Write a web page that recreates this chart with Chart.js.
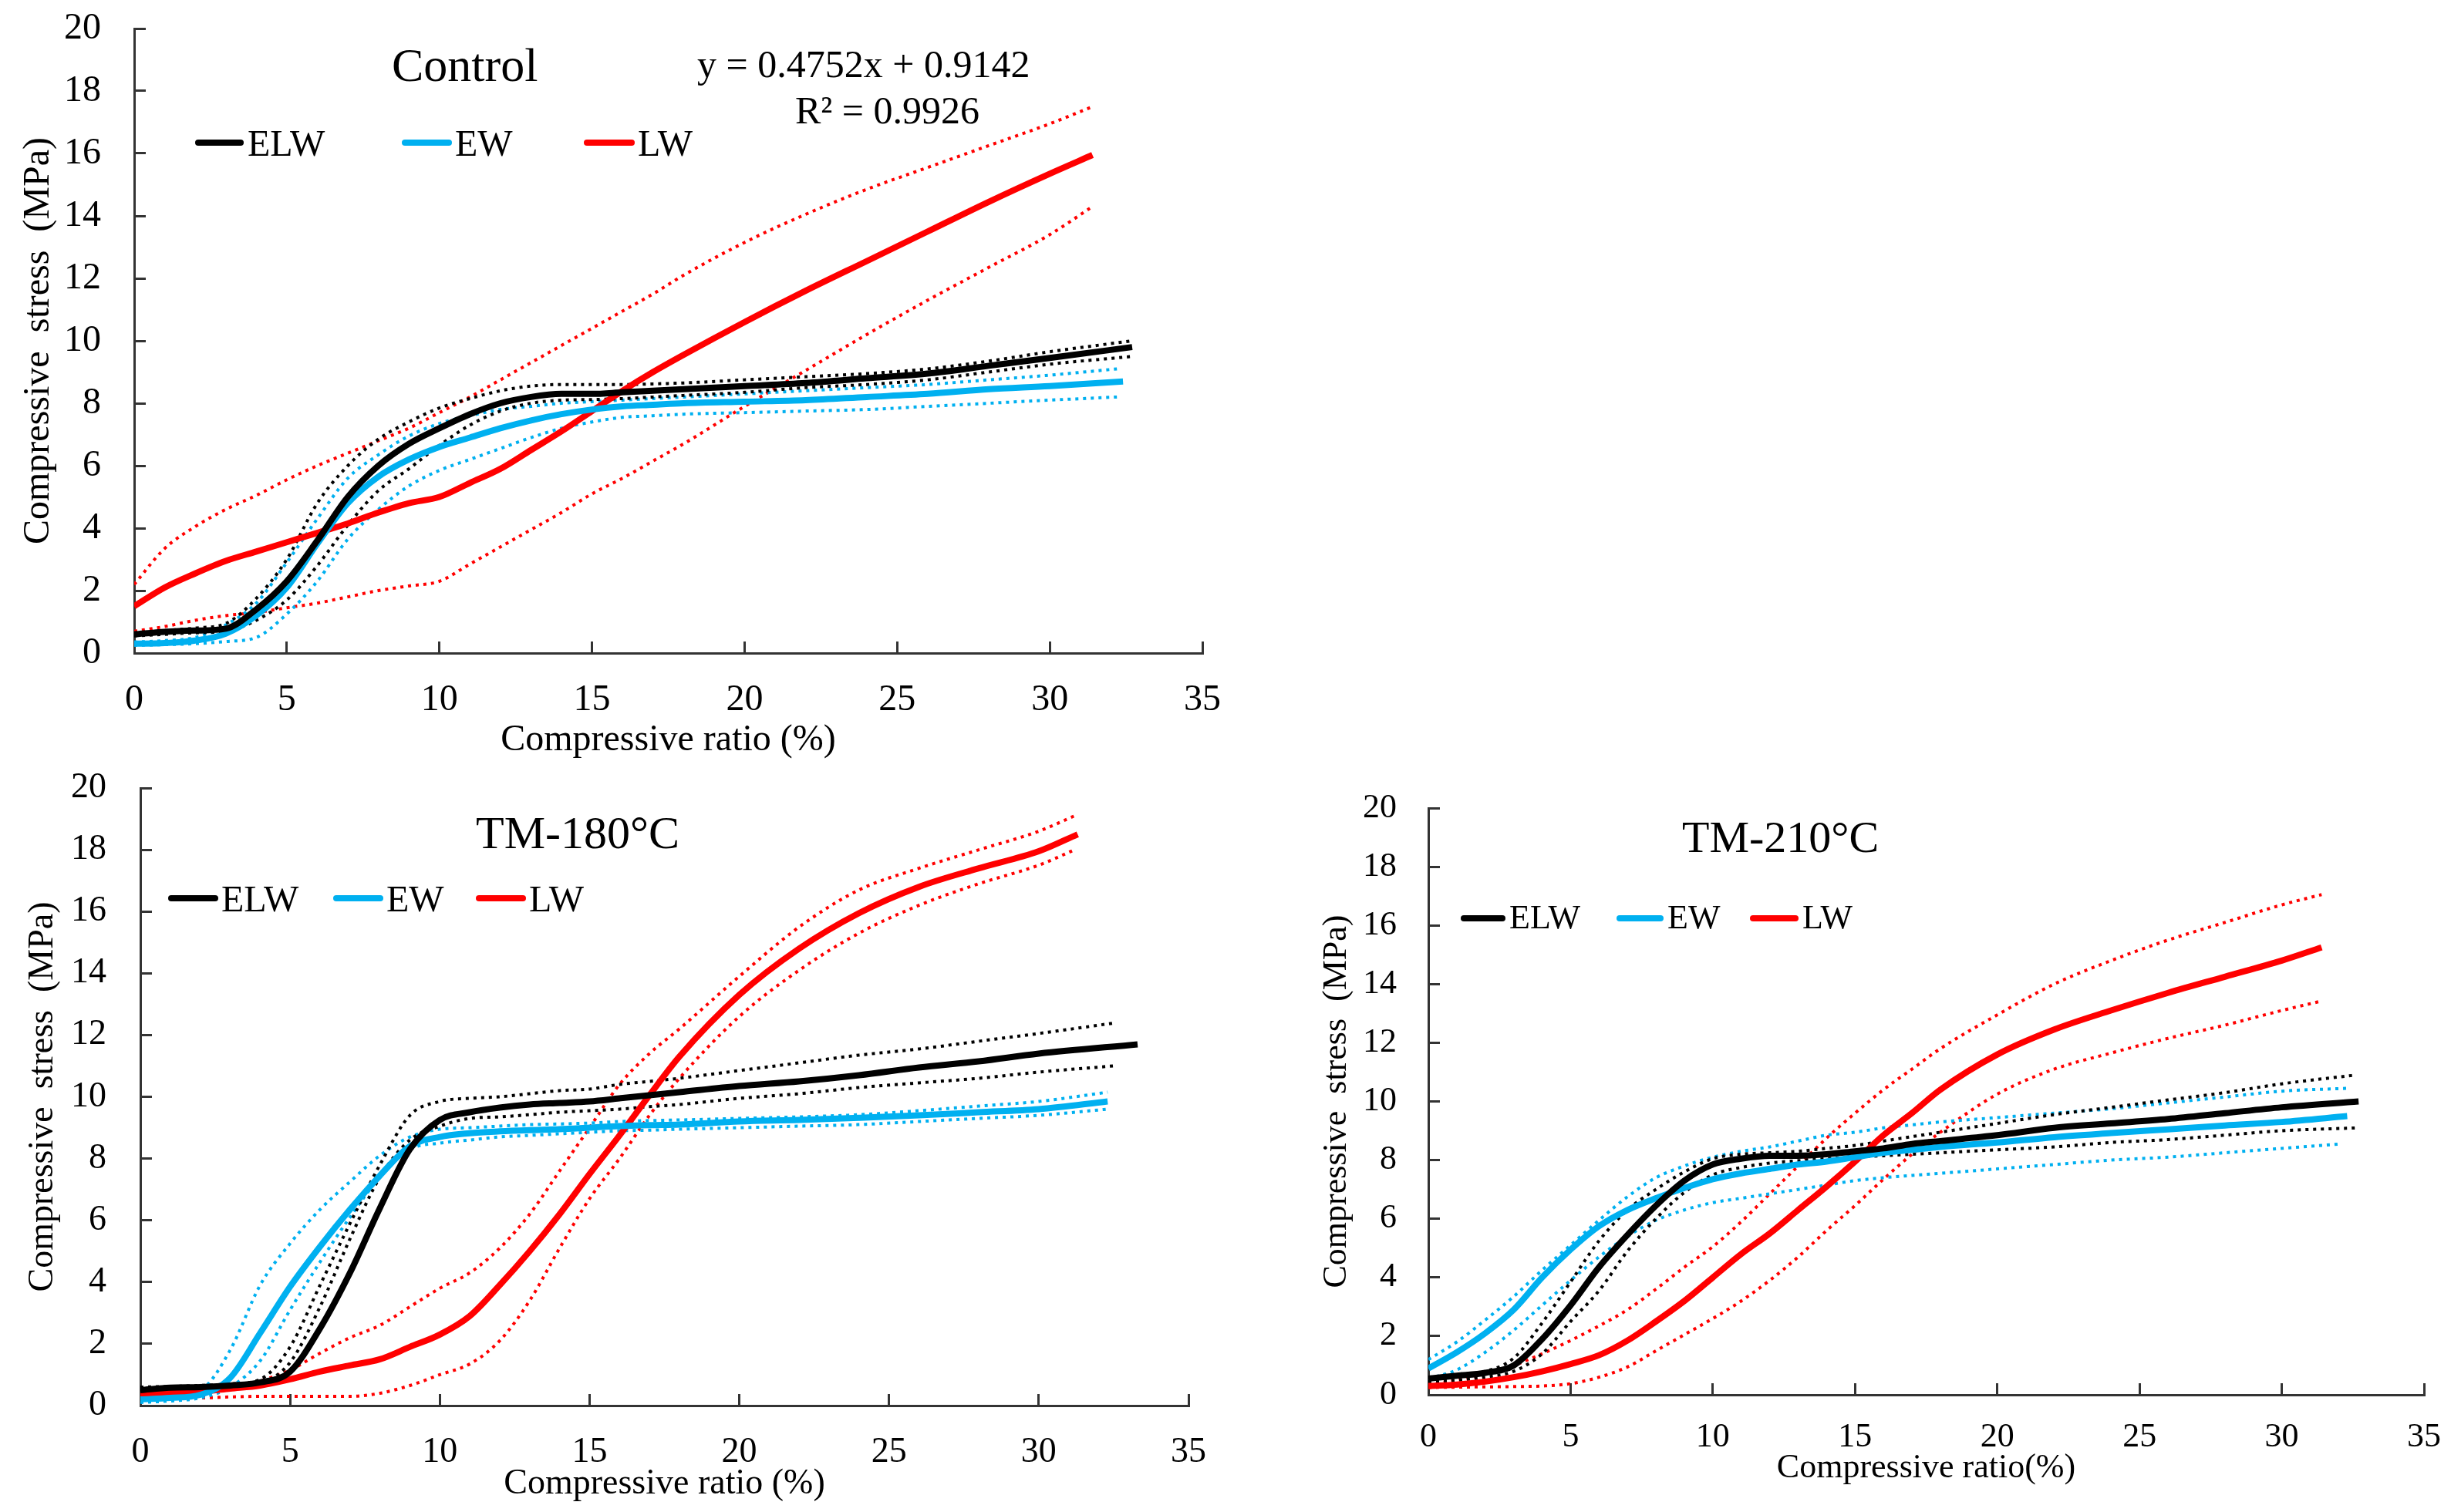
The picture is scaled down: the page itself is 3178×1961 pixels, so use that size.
<!DOCTYPE html>
<html lang="en">
<head>
<meta charset="UTF-8">
<title>Compressive stress vs compressive ratio</title>
<script src="https://cdn.jsdelivr.net/npm/chart.js@4.4.0/dist/chart.umd.min.js"></script>
<style>
  body { margin: 0; background: #fff; width: 3178px; height: 1961px; position: relative; overflow: hidden;
         font-family: "Liberation Serif", "Times New Roman", serif; color: #000; }
  .box { position: absolute; }
  .txt { position: absolute; line-height: 1; white-space: nowrap; }
  .key { position: absolute; height: 8px; border-radius: 4px; }
</style>
</head>
<body>

<!-- Control -->
<div class="box" style="left:0;top:0;width:1600px;height:997px"><canvas id="ctrlChart"></canvas></div>
<div class="txt" style="left:508px;top:53px;font-size:62px">Control</div>
<div class="txt" style="left:904px;top:58px;font-size:50px">y = 0.4752x + 0.9142</div>
<div class="txt" style="left:1031px;top:118px;font-size:50px">R² = 0.9926</div>
<div class="key" style="left:253px;top:181px;width:63px;background:#000"></div>
<div class="txt" style="left:321px;top:162px;font-size:48px">ELW</div>
<div class="key" style="left:521px;top:181px;width:65px;background:#00B0F0"></div>
<div class="txt" style="left:590px;top:162px;font-size:48px">EW</div>
<div class="key" style="left:757px;top:181px;width:66px;background:#FF0000"></div>
<div class="txt" style="left:827px;top:162px;font-size:48px">LW</div>

<!-- TM-180 -->
<div class="box" style="left:0;top:960px;width:1600px;height:1001px"><canvas id="tm180Chart"></canvas></div>
<div class="txt" style="left:617px;top:1050px;font-size:60px">TM-180°C</div>
<div class="key" style="left:218px;top:1161px;width:65px;background:#000"></div>
<div class="txt" style="left:287px;top:1142px;font-size:48px">ELW</div>
<div class="key" style="left:432px;top:1161px;width:65px;background:#00B0F0"></div>
<div class="txt" style="left:501px;top:1142px;font-size:48px">EW</div>
<div class="key" style="left:617px;top:1161px;width:65px;background:#FF0000"></div>
<div class="txt" style="left:686px;top:1142px;font-size:48px">LW</div>

<!-- TM-210 -->
<div class="box" style="left:1640px;top:960px;width:1538px;height:1001px"><canvas id="tm210Chart"></canvas></div>
<div class="txt" style="left:2181px;top:1057px;font-size:58px">TM-210°C</div>
<div class="key" style="left:1894px;top:1187px;width:58px;background:#000"></div>
<div class="txt" style="left:1957px;top:1168px;font-size:44px">ELW</div>
<div class="key" style="left:2096px;top:1187px;width:61px;background:#00B0F0"></div>
<div class="txt" style="left:2162px;top:1168px;font-size:44px">EW</div>
<div class="key" style="left:2269px;top:1187px;width:63px;background:#FF0000"></div>
<div class="txt" style="left:2337px;top:1168px;font-size:44px">LW</div>

<script>
// compressive ratio (%) sampled along every curve; the last value of each series sits at its own end point
const ratioX = [0, 1, 2, 3, 4, 5, 6, 7, 8, 9, 10, 11, 12, 13, 14, 15, 16, 17, 18, 20, 22, 24, 26, 28, 30];
// end ratio per series: ELW, ELW+, ELW-, EW, EW+, EW-, LW, LW+, LW-
const ctrlEnds  = [32.7, 32.7, 32.7, 32.4, 32.2, 32.2, 31.4, 31.4, 31.4];
const tm180Ends = [33.3, 32.6, 32.5, 32.3, 32.3, 32.3, 31.3, 31.2, 31.2];
const tm210Ends = [32.7, 32.6, 32.7, 32.3, 32.4, 32.1, 31.4, 31.4, 31.3];

// Control (MPa)
const ctrlELW   = [0.6, 0.68, 0.72, 0.78, 1.4, 2.3, 3.6, 5.0, 6.0, 6.7, 7.2, 7.65, 8.0, 8.2, 8.3, 8.3, 8.35, 8.4, 8.45, 8.55, 8.65, 8.8, 8.95, 9.2, 9.45, 9.8];
const ctrlELWUp = [0.65, 0.72, 0.8, 0.95, 1.75, 3.0, 4.8, 6.0, 6.85, 7.4, 7.85, 8.15, 8.4, 8.55, 8.6, 8.6, 8.6, 8.62, 8.65, 8.75, 8.85, 8.95, 9.1, 9.35, 9.65, 10.0];
const ctrlELWLo = [0.55, 0.6, 0.65, 0.7, 1.05, 1.7, 2.8, 4.1, 5.2, 5.9, 6.65, 7.3, 7.75, 8.0, 8.1, 8.12, 8.15, 8.2, 8.25, 8.35, 8.5, 8.6, 8.75, 9.0, 9.25, 9.5];
const ctrlEW    = [0.3, 0.32, 0.4, 0.62, 1.2, 2.1, 3.5, 4.8, 5.65, 6.2, 6.6, 6.9, 7.2, 7.45, 7.65, 7.8, 7.9, 7.95, 8.0, 8.05, 8.1, 8.2, 8.3, 8.45, 8.55, 8.7];
const ctrlEWUp  = [0.35, 0.4, 0.5, 0.9, 1.6, 2.9, 4.3, 5.6, 6.35, 6.95, 7.35, 7.6, 7.8, 7.9, 8.0, 8.05, 8.1, 8.15, 8.2, 8.3, 8.4, 8.5, 8.6, 8.75, 8.9, 9.1];
const ctrlEWLo  = [0.25, 0.27, 0.3, 0.37, 0.5, 1.25, 2.3, 3.65, 4.6, 5.35, 5.85, 6.2, 6.55, 6.9, 7.2, 7.4, 7.55, 7.6, 7.65, 7.7, 7.75, 7.8, 7.9, 8.0, 8.1, 8.2];
const ctrlLW    = [1.5, 2.1, 2.55, 2.95, 3.25, 3.55, 3.85, 4.15, 4.5, 4.8, 5.0, 5.45, 5.9, 6.5, 7.1, 7.75, 8.4, 9.0, 9.55, 10.6, 11.6, 12.55, 13.5, 14.45, 15.35, 15.95];
const ctrlLWUp  = [2.2, 3.35, 4.05, 4.6, 5.05, 5.55, 6.0, 6.4, 6.8, 7.2, 7.7, 8.2, 8.75, 9.3, 9.85, 10.4, 10.95, 11.5, 12.1, 13.15, 14.05, 14.85, 15.55, 16.25, 16.95, 17.5];
const ctrlLWLo  = [0.7, 0.85, 1.05, 1.2, 1.3, 1.45, 1.6, 1.8, 2.0, 2.15, 2.3, 2.85, 3.4, 3.95, 4.5, 5.1, 5.6, 6.15, 6.7, 7.9, 9.05, 10.2, 11.3, 12.35, 13.4, 14.3];

// TM-180°C (MPa)
const tm180ELW   = [0.5, 0.58, 0.6, 0.65, 0.75, 1.1, 2.5, 4.3, 6.4, 8.3, 9.25, 9.5, 9.65, 9.75, 9.8, 9.85, 9.95, 10.05, 10.15, 10.35, 10.5, 10.7, 10.95, 11.15, 11.4, 11.7];
const tm180ELWUp = [0.6, 0.62, 0.65, 0.7, 0.85, 1.9, 3.9, 5.9, 7.8, 9.4, 9.85, 9.95, 10.0, 10.1, 10.2, 10.25, 10.4, 10.5, 10.6, 10.85, 11.1, 11.35, 11.55, 11.8, 12.05, 12.4];
const tm180ELWLo = [0.45, 0.5, 0.52, 0.55, 0.7, 1.4, 3.2, 5.4, 7.4, 8.6, 9.05, 9.3, 9.35, 9.42, 9.5, 9.55, 9.6, 9.68, 9.75, 9.95, 10.1, 10.3, 10.45, 10.6, 10.8, 11.0];
const tm180EW    = [0.2, 0.25, 0.35, 0.9, 2.35, 3.85, 5.15, 6.35, 7.45, 8.4, 8.7, 8.82, 8.88, 8.92, 8.95, 9.0, 9.05, 9.08, 9.1, 9.2, 9.25, 9.32, 9.4, 9.5, 9.6, 9.85];
const tm180EWUp  = [0.3, 0.35, 0.5, 1.8, 3.9, 5.25, 6.35, 7.25, 8.1, 8.7, 8.95, 9.0, 9.05, 9.1, 9.12, 9.15, 9.2, 9.23, 9.25, 9.3, 9.35, 9.42, 9.55, 9.7, 9.85, 10.15];
const tm180EWLo  = [0.1, 0.15, 0.25, 0.6, 1.45, 3.1, 4.65, 6.1, 7.4, 8.3, 8.5, 8.6, 8.7, 8.75, 8.8, 8.85, 8.9, 8.92, 8.95, 9.0, 9.05, 9.1, 9.2, 9.3, 9.4, 9.6];
const tm180LW    = [0.35, 0.4, 0.45, 0.55, 0.65, 0.85, 1.1, 1.3, 1.5, 1.9, 2.3, 2.9, 3.9, 5.0, 6.2, 7.5, 8.75, 10.05, 11.3, 13.3, 14.8, 15.95, 16.8, 17.4, 17.95, 18.5];
const tm180LWUp  = [0.3, 0.35, 0.4, 0.55, 0.8, 1.15, 1.7, 2.2, 2.6, 3.2, 3.8, 4.3, 5.1, 6.2, 7.6, 9.0, 10.4, 11.4, 12.2, 13.9, 15.5, 16.7, 17.4, 18.0, 18.6, 19.1];
const tm180LWLo  = [0.25, 0.25, 0.25, 0.28, 0.3, 0.3, 0.3, 0.3, 0.4, 0.65, 1.0, 1.35, 2.1, 3.4, 5.1, 6.7, 8.0, 9.4, 10.6, 12.6, 14.1, 15.3, 16.2, 16.9, 17.5, 18.0];

// TM-210°C (MPa)
const tm210ELW   = [0.55, 0.65, 0.75, 1.0, 1.9, 3.05, 4.35, 5.45, 6.45, 7.3, 7.85, 8.05, 8.15, 8.15, 8.2, 8.3, 8.4, 8.55, 8.65, 8.85, 9.1, 9.25, 9.4, 9.6, 9.8, 10.0];
const tm210ELWUp = [0.6, 0.7, 0.8, 1.25, 2.45, 3.85, 5.25, 6.3, 7.0, 7.6, 8.05, 8.2, 8.25, 8.3, 8.4, 8.5, 8.65, 8.8, 8.95, 9.25, 9.55, 9.8, 10.05, 10.3, 10.6, 10.9];
const tm210ELWLo = [0.45, 0.5, 0.6, 0.8, 1.4, 2.5, 3.55, 4.9, 6.0, 6.9, 7.5, 7.75, 7.9, 7.98, 8.05, 8.1, 8.15, 8.2, 8.25, 8.35, 8.45, 8.6, 8.7, 8.85, 9.0, 9.1];
const tm210EW    = [0.9, 1.45, 2.1, 2.9, 4.0, 4.95, 5.75, 6.3, 6.7, 7.05, 7.35, 7.55, 7.7, 7.85, 7.95, 8.1, 8.25, 8.35, 8.45, 8.6, 8.78, 8.92, 9.05, 9.18, 9.3, 9.5];
const tm210EWUp  = [1.2, 1.8, 2.55, 3.35, 4.25, 5.1, 5.95, 6.75, 7.4, 7.8, 8.1, 8.3, 8.45, 8.65, 8.85, 8.95, 9.1, 9.2, 9.3, 9.45, 9.6, 9.75, 9.95, 10.15, 10.35, 10.45];
const tm210EWLo  = [0.55, 0.85, 1.45, 2.2, 3.05, 3.9, 4.7, 5.4, 5.95, 6.3, 6.55, 6.7, 6.85, 7.0, 7.15, 7.3, 7.4, 7.48, 7.55, 7.7, 7.85, 8.0, 8.1, 8.25, 8.4, 8.55];
const tm210LW    = [0.3, 0.35, 0.45, 0.6, 0.8, 1.05, 1.35, 1.85, 2.5, 3.2, 4.0, 4.8, 5.5, 6.3, 7.1, 7.95, 8.85, 9.6, 10.4, 11.6, 12.45, 13.1, 13.7, 14.25, 14.8, 15.25];
const tm210LWUp  = [0.35, 0.5, 0.7, 1.0, 1.4, 1.85, 2.35, 2.9, 3.6, 4.35, 5.05, 5.9, 6.85, 7.8, 8.75, 9.6, 10.4, 11.1, 11.8, 12.95, 14.0, 14.8, 15.5, 16.1, 16.7, 17.05];
const tm210LWLo  = [0.25, 0.26, 0.27, 0.28, 0.3, 0.38, 0.6, 0.95, 1.5, 2.05, 2.6, 3.2, 3.9, 4.7, 5.6, 6.45, 7.35, 8.2, 8.95, 10.25, 11.1, 11.65, 12.15, 12.6, 13.1, 13.4];

const FONT = '"Liberation Serif", "Times New Roman", serif';
const BLACK = '#000000', BLUE = '#00B0F0', RED = '#FF0000';

function pts(ys, end) {
  return ys.map((y, i) => ({ x: i < ratioX.length ? ratioX[i] : end, y }));
}

function mean(ys, end, color) {
  return { data: pts(ys, end), borderColor: color, borderWidth: 8, pointRadius: 0,
           tension: 0.4, cubicInterpolationMode: 'monotone', fill: false };
}
function band(ys, end, color) {
  return { data: pts(ys, end), borderColor: color, borderWidth: 4, borderDash: [4, 6], pointRadius: 0,
           tension: 0.4, cubicInterpolationMode: 'monotone', fill: false };
}

// keep the plot box exactly where the scale sizes put it (no extra room for label overhang)
function noPad(sc) {
  sc.paddingTop = 0; sc.paddingBottom = 0; sc.paddingLeft = 0; sc.paddingRight = 0;
}

function build(id, s, ends, o) {
  // first dataset ends up on top, so the solid mean curves go first
  const datasets = [
    mean(s[0], ends[0], BLACK), mean(s[3], ends[3], BLUE), mean(s[6], ends[6], RED),
    band(s[1], ends[1], BLACK), band(s[2], ends[2], BLACK),
    band(s[4], ends[4], BLUE), band(s[5], ends[5], BLUE),
    band(s[7], ends[7], RED), band(s[8], ends[8], RED)
  ];
  const tickFont = { family: FONT, size: o.tick };
  const titleFont = { family: FONT, size: o.title };
  new Chart(id, {
    type: 'line',
    data: { datasets },
    options: {
      responsive: true, maintainAspectRatio: false, animation: false,
      layout: { padding: { left: 0, top: o.top, right: o.right, bottom: 0 } },
      plugins: { legend: { display: false }, tooltip: { enabled: false } },
      scales: {
        x: {
          type: 'linear', min: 0, max: 35,
          ticks: { stepSize: 5, padding: o.xPad, color: '#000', font: tickFont, maxRotation: 0, autoSkip: false },
          grid: { drawOnChartArea: false, drawTicks: true, tickLength: -15, tickWidth: 3, tickColor: '#333' },
          border: { color: '#333', width: 3 },
          title: { display: true, text: o.xTitle, color: '#000', font: titleFont, padding: { top: 0, bottom: o.xTitlePad } },
          afterFit: sc => { sc.height = o.xH; noPad(sc); }
        },
        y: {
          min: 0, max: 20,
          ticks: { stepSize: 2, padding: o.yPad, color: '#000', font: tickFont },
          grid: { drawOnChartArea: false, drawTicks: true, tickLength: -15, tickWidth: 3, tickColor: '#333' },
          border: { color: '#333', width: 3 },
          title: { display: true, text: 'Compressive  stress  (MPa)', color: '#000', font: titleFont, padding: { top: o.yTitlePad, bottom: 0 } },
          afterFit: sc => { sc.width = o.yW; noPad(sc); }
        }
      }
    }
  });
}

build('ctrlChart',
  [ctrlELW, ctrlELWUp, ctrlELWLo, ctrlEW, ctrlEWUp, ctrlEWLo, ctrlLW, ctrlLWUp, ctrlLWLo], ctrlEnds,
  { top: 37, right: 41, yW: 174, xH: 150, tick: 48, title: 48, xPad: 48, yPad: 58,
    xTitle: 'Compressive ratio (%)', xTitlePad: 8, yTitlePad: 22 });

build('tm180Chart',
  [tm180ELW, tm180ELWUp, tm180ELWLo, tm180EW, tm180EWUp, tm180EWLo, tm180LW, tm180LWUp, tm180LWLo], tm180Ends,
  { top: 62, right: 59, yW: 182, xH: 138, tick: 46, title: 46, xPad: 48, yPad: 59,
    xTitle: 'Compressive ratio (%)', xTitlePad: 8, yTitlePad: 28 });

build('tm210Chart',
  [tm210ELW, tm210ELWUp, tm210ELWLo, tm210EW, tm210EWUp, tm210EWLo, tm210LW, tm210LWUp, tm210LWLo], tm210Ends,
  { top: 88, right: 35, yW: 212, xH: 152, tick: 44, title: 44, xPad: 44, yPad: 56,
    xTitle: 'Compressive ratio(%)', xTitlePad: 30, yTitlePad: 67 });
</script>
</body>
</html>
